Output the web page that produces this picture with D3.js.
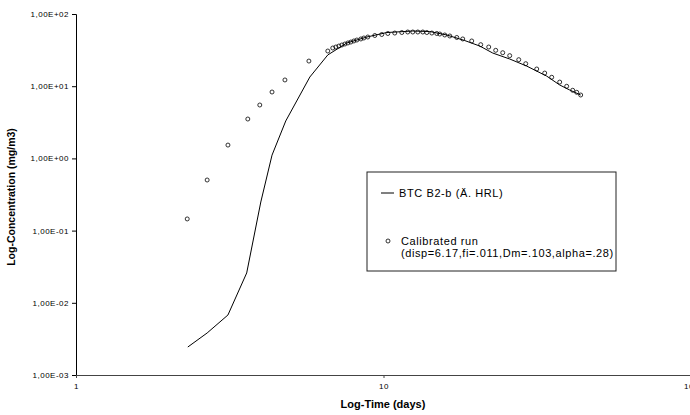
<!DOCTYPE html>
<html>
<head>
<meta charset="utf-8">
<script src="https://cdn.jsdelivr.net/npm/d3@7"></script>
<style>
  body { margin: 0; background: #fff; }
  svg { display: block; font-family: "Liberation Sans", Arial, sans-serif; }
  .tick text { font-size: 8px; letter-spacing: 0.5px; fill: #000; }
</style>
</head>
<body>
<svg id="chart" width="690" height="415"></svg>
<script>
// measured curve (BTC B2-b) : time in days, concentration mg/m3
var measTime = [2.31, 2.67, 3.12, 3.59, 3.99, 4.34, 4.81, 5.76, 6.59, 7.60, 8.83, 10.25, 12.45, 14.14, 16.06, 18.37, 20.56, 22.66, 25.73, 29.22, 33.94, 37.41, 40.31, 43.78];
var measConc = [0.00244, 0.00382, 0.00678, 0.0259, 0.249, 1.11, 3.30, 13.4, 27.1, 39.7, 48.0, 55.4, 58.1, 57.2, 51.2, 42.9, 36.0, 28.8, 23.8, 19.0, 13.8, 10.4, 8.86, 7.55];

// calibrated run
var calTime = [2.30, 2.67, 3.12, 3.62, 3.96, 4.34, 4.78, 5.72, 6.59, 6.84, 7.00, 7.16, 7.32, 7.49, 7.66, 7.83, 8.01, 8.19, 8.44, 8.63, 8.89, 9.37, 9.87, 10.33, 10.88, 11.47, 11.99, 12.45, 12.93, 13.42, 13.83, 14.36, 14.90, 15.24, 15.82, 16.43, 17.31, 18.10, 19.36, 20.71, 21.99, 23.17, 24.42, 25.73, 27.53, 29.01, 31.50, 33.44, 35.24, 37.41, 39.42, 41.23, 42.49, 43.78];
var calConc = [0.145, 0.502, 1.53, 3.51, 5.49, 8.31, 12.2, 22.3, 30.7, 33.8, 34.9, 36.0, 37.2, 38.4, 39.7, 40.9, 42.3, 43.6, 45.1, 46.5, 48.0, 50.4, 52.0, 53.7, 54.5, 55.4, 56.3, 56.3, 56.3, 56.3, 55.4, 54.5, 53.7, 52.8, 51.2, 49.6, 47.3, 45.1, 42.3, 37.6, 34.9, 31.4, 29.1, 26.5, 23.3, 20.5, 17.3, 15.2, 13.3, 11.4, 9.97, 8.78, 8.23, 7.55];

var xTicks = [1, 10, 100];
var yTicks = [1e-3, 1e-2, 1e-1, 1, 10, 100];
var yTickLabels = ["1,00E-03", "1,00E-02", "1,00E-01", "1,00E+00", "1,00E+01", "1,00E+02"];

var svg = d3.select("#chart");

var x = d3.scaleLog().domain([1, 100]).range([76, 691]);
var y = d3.scaleLog().domain([1e-3, 100]).range([375, 14]);

// axes
var yAxis = d3.axisLeft(y)
    .tickValues(yTicks)
    .tickSize(4)
    .tickPadding(3)
    .tickFormat(function(d, i) { return yTickLabels[i]; });

svg.append("g")
   .attr("transform", "translate(76,0)")
   .call(yAxis)
   .call(function(g) { g.selectAll("path, line").attr("stroke", "#000"); });

var xAxis = d3.axisBottom(x)
    .tickValues(xTicks)
    .tickSize(3)
    .tickSizeOuter(0)
    .tickPadding(5)
    .tickFormat(d3.format("d"));

svg.append("g")
   .attr("transform", "translate(0,375)")
   .call(xAxis)
   .call(function(g) { g.selectAll("path, line").attr("stroke", "#444"); });

// axis titles
svg.append("text")
   .attr("x", 383)
   .attr("y", 408)
   .attr("text-anchor", "middle")
   .attr("font-size", 11)
   .attr("font-weight", "bold")
   .text("Log-Time (days)");

svg.append("text")
   .attr("transform", "translate(15,197) rotate(-90)")
   .attr("text-anchor", "middle")
   .attr("font-size", 10.5)
   .attr("font-weight", "bold")
   .text("Log-Concentration (mg/m3)");

// measured line
var line = d3.line()
    .x(function(d, i) { return x(measTime[i]); })
    .y(function(d) { return y(d); });

svg.append("path")
   .datum(measConc)
   .attr("d", line)
   .attr("fill", "none")
   .attr("stroke", "#000")
   .attr("stroke-width", 1);

// calibrated circles
svg.append("g")
   .selectAll("circle")
   .data(calConc)
   .enter().append("circle")
   .attr("cx", function(d, i) { return x(calTime[i]); })
   .attr("cy", function(d) { return y(d); })
   .attr("r", 2)
   .attr("fill", "none")
   .attr("stroke", "#000")
   .attr("stroke-width", 0.8);

// legend
var legend = svg.append("g").attr("transform", "translate(367,172)");
legend.append("rect")
   .attr("width", 249)
   .attr("height", 99)
   .attr("fill", "#fff")
   .attr("stroke", "#222")
   .attr("stroke-width", 1);

legend.append("line")
   .attr("x1", 14).attr("x2", 27)
   .attr("y1", 21).attr("y2", 21)
   .attr("stroke", "#000");

legend.append("text")
   .attr("x", 32).attr("y", 25)
   .attr("font-size", 11)
   .attr("letter-spacing", 0.6)
   .text("BTC B2-b (Ä. HRL)");

legend.append("circle")
   .attr("cx", 21).attr("cy", 69)
   .attr("r", 2)
   .attr("fill", "none")
   .attr("stroke", "#000")
   .attr("stroke-width", 0.8);

legend.append("text")
   .attr("x", 34).attr("y", 73)
   .attr("font-size", 11)
   .attr("letter-spacing", 0.6)
   .text("Calibrated run");

legend.append("text")
   .attr("x", 34).attr("y", 85)
   .attr("font-size", 11)
   .attr("letter-spacing", 0.6)
   .text("(disp=6.17,fi=.011,Dm=.103,alpha=.28)");
</script>
</body>
</html>
